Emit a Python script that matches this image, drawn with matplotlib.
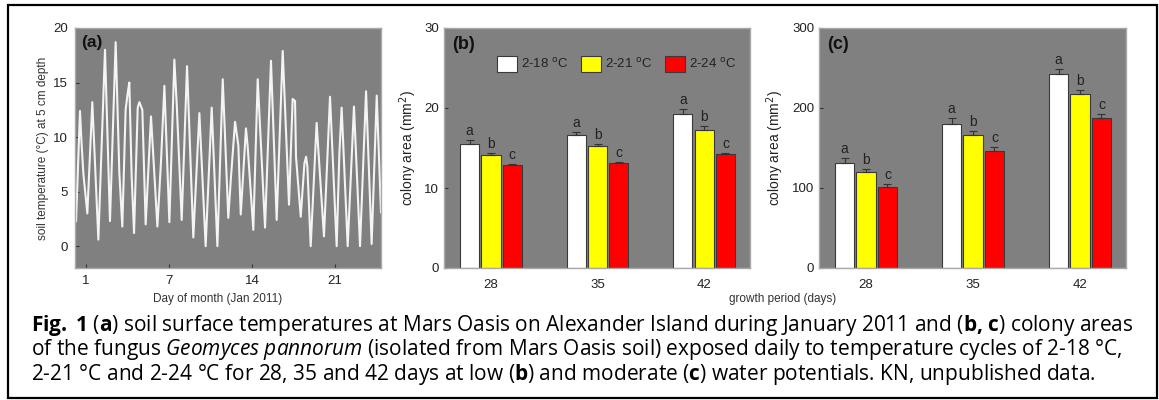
import matplotlib
matplotlib.use('Agg')
import matplotlib.pyplot as plt
import numpy as np
from matplotlib.patches import Rectangle, Patch


# --------------------------------
# data
# (a) soil temperature at 5 cm depth (peaks, troughs, shoulders)
days = [0.16, 0.49, 0.62, 0.78, 1.11, 1.53, 2.04, 2.60, 3.02, 3.50, 3.81, 4.06,
        4.34, 4.51, 4.65, 4.85, 5.05, 5.36, 5.50, 5.75, 6.03, 6.48, 7.02, 7.33,
        7.61, 8.03, 8.45, 8.65, 9.07, 9.52, 10.05, 10.56, 11.09, 11.60, 12.08,
        12.53, 13.00, 13.23, 13.57, 13.85, 14.05, 14.49, 14.63, 15.11, 15.48,
        16.10, 16.60, 17.08, 17.59, 18.12, 18.43, 18.63, 18.71, 19.11, 19.42,
        19.56, 19.67, 19.95, 20.45, 20.65, 21.07, 21.58, 22.14, 22.37, 22.56,
        23.07, 23.60, 24.11, 24.62, 25.09, 25.52, 25.88]
temps = [2.3, 12.4, 9.5, 6.6, 3.0, 13.2, 0.6, 18.0, 2.3, 18.7, 6.7, 1.8,
         12.5, 14.0, 15.0, 6.4, 1.2, 12.7, 13.2, 12.5, 2.0, 11.9, 1.8, 7.9,
         14.7, 2.2, 17.1, 13.0, 2.4, 16.5, 0.8, 12.2, 0.0, 12.7, 0.0,
         15.3, 2.6, 6.4, 11.4, 9.2, 2.9, 10.8, 9.2, 1.5, 15.3,
         1.7, 17.0, 2.4, 17.9, 3.8, 13.5, 13.3, 8.2, 2.7, 7.6,
         8.2, 7.3, 0.0, 11.3, 7.9, 0.9, 13.7, 0.0, 8.5, 12.7,
         0.0, 12.8, 0.0, 14.2, 0.2, 13.8, 3.1]
day_ticks = [1, 8, 15, 22]
day_labels = ['1', '7', '14', '21']

# (b, c) colony areas
periods = ['28', '35', '42']
treatments = ['2-18 $^{\\rm o}$C', '2-21 $^{\\rm o}$C', '2-24 $^{\\rm o}$C']
colors = ['white', '#ffff00', '#ff0000']
letters = ['a', 'b', 'c']

area_b = [[15.5, 16.6, 19.3], [14.1, 15.2, 17.2], [12.9, 13.1, 14.2]]
err_b = [[0.5, 0.4, 0.6], [0.3, 0.35, 0.5], [0.15, 0.15, 0.12]]
area_c = [[131, 180, 242], [119.6, 166, 217], [101, 146, 188]]
err_c = [[6, 7, 7], [4.5, 5, 5.5], [4, 5, 5]]

caption = [
    r"$\mathbf{Fig.}$ $\mathbf{1}$ ($\mathbf{a}$) soil surface temperatures at Mars Oasis on Alexander Island during January 2011 and ($\mathbf{b}$$\mathbf{,}$ $\mathbf{c}$) colony areas",
    r"of the fungus $\mathit{Geomyces}$ $\mathit{pannorum}$ (isolated from Mars Oasis soil) exposed daily to temperature cycles of 2-18 °C,",
    r"2-21 °C and 2-24 °C for 28, 35 and 42 days at low ($\mathbf{b}$) and moderate ($\mathbf{c}$) water potentials. KN, unpublished data.",
]

# --------------------------------
plt.rcParams['font.family'] = ['Liberation Sans', 'DejaVu Sans']
plt.rcParams['mathtext.fontset'] = 'custom'
plt.rcParams['mathtext.rm'] = 'Open Sans'
plt.rcParams['mathtext.bf'] = 'Open Sans:bold'
plt.rcParams['mathtext.it'] = 'Open Sans:italic'

W, H = 1159, 400
fig = plt.figure(figsize=(W / 100, H / 100), dpi=100)

bg = '#808080'
spine_c = '#a9a9a9'
txt_c = '#222222'


def px_axes(x0, x1, y0, y1):
    return fig.add_axes([x0 / W, 1 - y1 / H, (x1 - x0) / W, (y1 - y0) / H])


def style(ax):
    ax.set_facecolor(bg)
    for s in ax.spines.values():
        s.set_color(spine_c)
        s.set_linewidth(1.0)
    ax.tick_params(direction='in', length=3, color='#333333', labelcolor=txt_c, labelsize=9.5)


# (a)
ax_a = px_axes(75, 381, 28, 268)
style(ax_a)
ax_a.plot(days, temps, color='#f4f4f4', lw=1.5, solid_joinstyle='round')
ax_a.set_xlim(0.07, 25.88)
ax_a.set_ylim(-2, 20)
ax_a.set_xticks(day_ticks)
ax_a.set_xticklabels(day_labels)
ax_a.set_yticks([0, 5, 10, 15, 20])
ax_a.tick_params(pad=5)
ax_a.set_ylabel('soil temperature (°C) at 5 cm depth', fontsize=8.5, color='#333333', labelpad=3)
ax_a.text(0.02, 0.97, '(a)', transform=ax_a.transAxes, fontsize=12.5, fontweight='bold',
          va='top', ha='left', color='#111111')


def bar_panel(ax, areas, errs, ymax, yticks, tag):
    style(ax)
    x = np.arange(len(periods))
    width = 0.18
    step = 0.2
    for i in range(3):
        xi = x + (i - 1) * step
        ax.bar(xi, areas[i], width=width, color=colors[i], edgecolor='#3a3a3a',
               linewidth=0.8, zorder=2)
        ax.errorbar(xi, areas[i], yerr=[np.zeros(3), errs[i]], fmt='none',
                    ecolor='#333333', elinewidth=0.8, capsize=3, capthick=0.8, zorder=3)
        for xx, v, e in zip(xi, areas[i], errs[i]):
            ax.annotate(letters[i], (xx, v + e), xytext=(0, 1.5), textcoords='offset points',
                        ha='center', va='bottom', fontsize=10, color=txt_c)
    ax.set_xticks(x)
    ax.set_xticklabels(periods)
    ax.tick_params(axis='x', length=0, pad=8)
    ax.set_xlim(-0.44, 2.43)
    ax.set_ylim(0, ymax)
    ax.set_yticks(yticks)
    ax.set_ylabel('colony area (mm$^2$)', fontsize=10, color=txt_c, labelpad=4,
                  math_fontfamily='dejavusans')
    ax.text(0.025, 0.965, tag, transform=ax.transAxes, fontsize=13, fontweight='bold',
            va='top', ha='left', color='#111111')


ax_b = px_axes(444, 750, 28, 268)
bar_panel(ax_b, area_b, err_b, 30, [0, 10, 20, 30], '(b)')
handles = [Patch(facecolor=c, edgecolor='#3a3a3a', linewidth=0.8) for c in colors]
leg = ax_b.legend(handles, treatments, ncol=3, loc='center left', bbox_to_anchor=(0.173, 0.85),
                  frameon=False, fontsize=9.5, handlelength=1.5, handleheight=1.5,
                  handletextpad=0.3, columnspacing=1.0, borderpad=0, borderaxespad=0)
for t in leg.get_texts():
    t.set_color(txt_c)
    t.set_math_fontfamily('dejavusans')

ax_c = px_axes(819, 1126, 28, 268)
bar_panel(ax_c, area_c, err_c, 300, [0, 100, 200, 300], '(c)')

fig.text(218 / W, 1 - 299 / H, 'Day of month (Jan 2011)', ha='center', va='center',
         fontsize=8.5, color='#333333')
fig.text(783 / W, 1 - 299 / H, 'growth period (days)', ha='center', va='center',
         fontsize=8.5, color='#333333')

# caption
for line, yb in zip(caption, [331, 355, 380]):
    fig.text(31 / W, 1 - yb / H, line, ha='left', va='baseline', fontsize=15.0,
             family='Open Sans', color='black')

# frame round the whole figure
fig.patches.append(Rectangle((8 / W, 2 / H), 1149 / W, 393 / H, transform=fig.transFigure,
                             fill=False, edgecolor='black', linewidth=1.6))

fig.savefig('out.png', dpi=100)
